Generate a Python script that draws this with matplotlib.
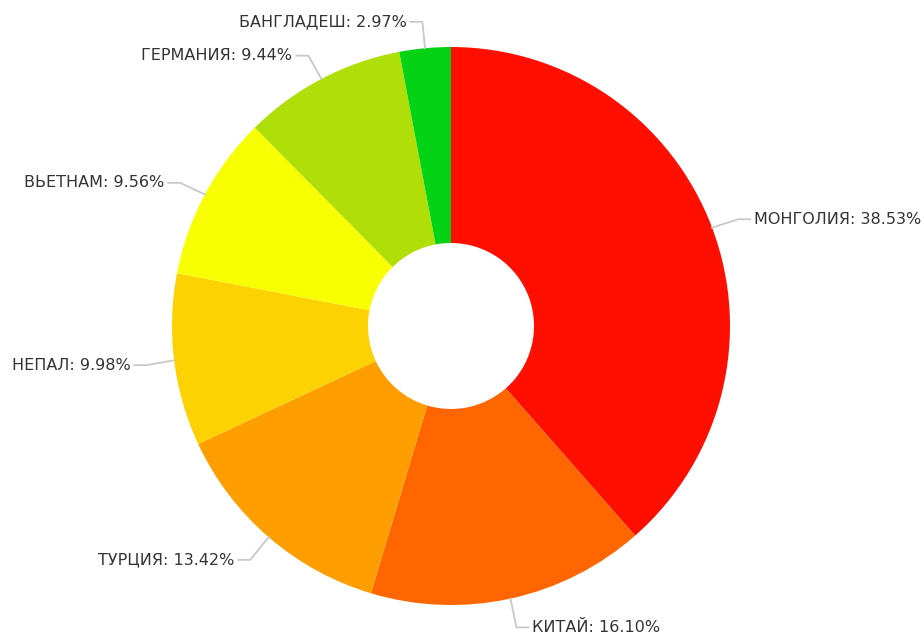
import numpy as np
import matplotlib
matplotlib.use("Agg")
import matplotlib.pyplot as plt

categories = ["МОНГОЛИЯ", "КИТАЙ", "ТУРЦИЯ", "НЕПАЛ", "ВЬЕТНАМ", "ГЕРМАНИЯ", "БАНГЛАДЕШ"]
values = [38.53, 16.10, 13.42, 9.98, 9.56, 9.44, 2.97]
colors = ["#FF0F00", "#FF6600", "#FF9E01", "#FCD202", "#F8FF01", "#B0DE09", "#04D215"]

W, H = 924, 637
fig = plt.figure(figsize=(W / 100, H / 100), dpi=100)
ax = fig.add_axes([0, 0, 1, 1])

cx, cy = 451, H - 326
R = 279
hole = 83

ax.pie(values, colors=colors, startangle=90, counterclock=False,
       center=(cx, cy), radius=R, frame=True,
       wedgeprops=dict(width=R - hole, linewidth=0))
ax.set_xlim(0, W)
ax.set_ylim(0, H)
ax.set_aspect("equal")
ax.axis("off")

total = sum(values)
cum = 0
for cat, v in zip(categories, values):
    mid = (cum + v / 2) / total * 360.0
    cum += v
    th = np.deg2rad(mid)
    sx, sy = np.sin(th), np.cos(th)
    x0, y0 = cx + R * sx, cy + R * sy
    x1, y1 = cx + (R + 28) * sx, cy + (R + 28) * sy - 1.5
    d = 1 if sx >= 0 else -1
    x2 = x1 + d * 12
    ax.plot([x0, x1, x2], [y0, y1, y1], color="#c8c8c8", lw=1.3,
            solid_joinstyle="miter", zorder=1)
    ax.text(x2 + d * 4, y1, f"{cat}: {v:.2f}%", ha="left" if d > 0 else "right",
            va="center", fontsize=11.5, color="#333333", family="DejaVu Sans")

fig.savefig("out.png", dpi=100, facecolor="white")
